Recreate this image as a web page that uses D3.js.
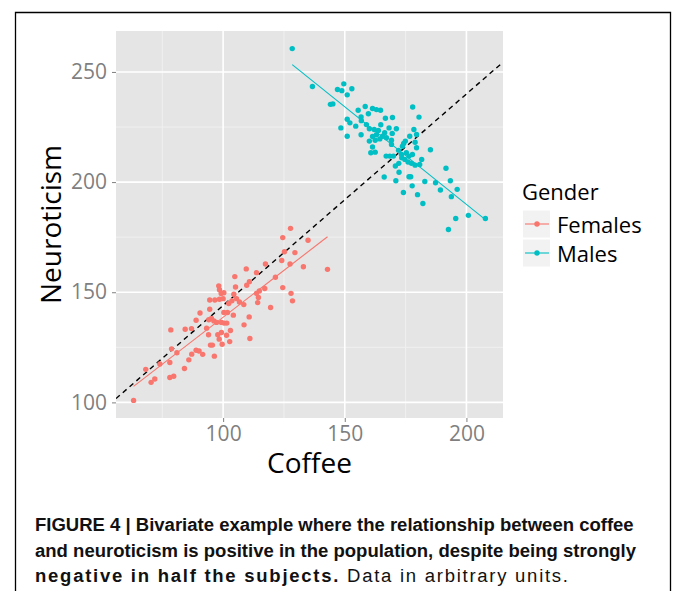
<!DOCTYPE html>
<html>
<head>
<meta charset="utf-8">
<script src="https://cdn.jsdelivr.net/npm/d3@7"></script>
<style>
  body { margin: 0; background: #fff; }
  svg { display: block; }
  .tick-label { font-family: "Open Sans", sans-serif; font-size: 21px; fill: #7f7f7f; }
  .axis-title { font-family: "Open Sans", sans-serif; font-size: 28px; fill: #000; }
  .legend-text { font-family: "Open Sans", sans-serif; font-size: 22px; fill: #000; }
  .caption { font-family: "Liberation Sans", "Roboto", sans-serif; font-size: 19px; fill: #111; }
</style>
</head>
<body>
<div id="chart"></div>
<script>
// data
var femaleCoffee = [63.2, 68.2, 70.4, 71.9, 74.0, 78.5, 78.8, 78.1, 78.1, 79.7, 81.0, 84.1, 84.4, 85.9, 87.0, 87.1,
  88.9, 88.9, 90.1, 90.5, 91.6, 93.2, 94.0, 94.8, 95.6, 96.4, 94.1, 95.2, 96.2, 97.3, 94.5, 96.6, 98.2, 98.5, 99.2,
  100.3, 97.8, 98.4, 99.6, 99.3, 100.4, 101.5, 98.5, 100.0, 100.3, 101.8, 103.0, 102.7, 101.4, 99.3, 102.3, 104.4,
  104.8, 105.1, 104.2, 103.6, 105.5, 106.7, 108.5, 108.6, 110.7, 111.0, 109.5, 109.7, 110.8, 113.7, 113.7, 114.5,
  114.9, 114.2, 117.1, 119.5, 121.5, 117.4, 124.1, 124.5, 125.2, 127.7, 129.5, 127.5, 124.5, 127.9, 128.5, 133.0,
  134.9, 142.9, 94.5];
var femaleNeuro = [100.9, 115.0, 109.1, 110.6, 117.4, 132.9, 124.3, 118.1, 111.3, 111.9, 122.5, 115.4, 133.2, 119.3,
  133.5, 121.9, 123.7, 137.3, 123.3, 140.6, 121.8, 133.7, 130.7, 126.0, 126.0, 121.0, 137.5, 138.1, 137.0, 136.3,
  146.5, 146.5, 152.9, 151.1, 149.4, 149.8, 130.7, 128.7, 126.4, 136.3, 136.0, 136.0, 146.8, 147.1, 140.8, 140.8,
  132.6, 127.6, 130.5, 131.7, 144.9, 149.1, 157.1, 152.4, 139.6, 146.1, 147.1, 145.6, 144.4, 135.2, 138.8, 129.0,
  160.6, 153.2, 154.8, 158.9, 149.5, 147.6, 150.6, 145.3, 151.7, 143.1, 156.8, 162.8, 164.4, 174.8, 168.4, 179.0,
  168.0, 162.8, 152.1, 149.5, 146.1, 161.6, 173.6, 160.4, 142.3];

var maleCoffee = [128.4, 136.7, 147.0, 148.8, 149.6, 151.0, 152.9, 144.1, 145.1, 155.5, 158.4, 159.7, 161.4, 163.0,
  164.7, 166.7, 169.6, 151.0, 152.1, 154.5, 156.7, 156.8, 148.4, 151.0, 156.7, 160.1, 162.1, 164.8, 168.2, 171.2,
  169.5, 161.4, 163.0, 163.8, 165.5, 167.1, 160.1, 162.5, 164.4, 169.2, 169.2, 161.4, 160.7, 162.5, 167.0, 168.5,
  170.0, 177.9, 180.5, 178.4, 179.5, 176.7, 174.9, 174.2, 173.7, 178.9, 179.5, 172.1, 173.3, 175.3, 176.4, 177.8,
  173.4, 174.7, 176.0, 177.4, 178.9, 180.8, 181.6, 185.2, 172.2, 172.3, 166.2, 171.0, 176.4, 177.1, 174.1, 177.7,
  179.9, 182.1, 182.9, 187.3, 189.3, 191.6, 193.4, 193.8, 196.2, 192.6, 195.6, 200.8, 207.8, 166.4, 158.9, 170.8];
var maleNeuro = [260.6, 243.4, 242.0, 241.5, 244.6, 239.6, 242.4, 235.3, 235.5, 232.6, 234.3, 231.0, 233.4, 232.9,
  232.6, 229.0, 229.3, 228.5, 226.9, 225.4, 229.6, 227.9, 224.6, 220.8, 221.5, 224.2, 223.9, 226.0, 224.6, 224.2,
  222.1, 220.7, 221.5, 223.4, 220.8, 220.1, 218.6, 219.0, 219.6, 219.0, 217.1, 215.9, 213.3, 213.6, 211.8, 211.8,
  211.8, 234.1, 229.5, 223.9, 221.6, 220.8, 218.6, 217.5, 216.3, 218.1, 215.6, 214.4, 212.5, 213.3, 211.8, 212.5,
  211.0, 210.3, 209.1, 208.5, 207.7, 208.0, 210.3, 214.7, 208.5, 204.5, 202.3, 200.6, 202.4, 202.4, 195.3, 198.3,
  194.3, 190.3, 200.3, 199.7, 196.4, 206.3, 200.6, 193.4, 196.7, 178.5, 183.5, 184.9, 183.5, 222.4, 226.1, 207.3];

var groups = ["Females", "Males"];
var groupColors = ["#F8766D", "#00BFC4"];
var xBreaks = [100, 150, 200];
var yBreaks = [100, 150, 200, 250];
var xMinor = [75, 125, 175];
var yMinor = [125, 175, 225];
// reference line (intercept, slope)
var refIntercept = 48;
var refSlope = 0.96;

var width = 673, height = 591;
var panelLeft = 116, panelRight = 503, panelTop = 31, panelBottom = 418;

var svg = d3.select('#chart')
            .append('svg')
            .attr('width', width)
            .attr('height', height);

svg.append('rect').attr('width', width).attr('height', height).attr('fill', '#fff');

// frame around the figure
svg.append('path')
  .attr('d', 'M15.5,' + (height + 2) + 'V12.5H670.5V' + (height + 2))
  .attr('fill', 'none')
  .attr('stroke', '#000')
  .attr('stroke-width', 1.3);

var series = [
  { name: groups[0], x: femaleCoffee, y: femaleNeuro, color: groupColors[0] },
  { name: groups[1], x: maleCoffee, y: maleNeuro, color: groupColors[1] }
];

var allX = femaleCoffee.concat(maleCoffee);
var allY = femaleNeuro.concat(maleNeuro);

function expand(ext) {
  var pad = (ext[1] - ext[0]) * 0.05;
  return [ext[0] - pad, ext[1] + pad];
}

var scaleX = d3.scaleLinear()
               .domain(expand(d3.extent(allX)))
               .range([panelLeft, panelRight]);
var scaleY = d3.scaleLinear()
               .domain(expand(d3.extent(allY)))
               .range([panelBottom, panelTop]);

// panel
svg.append('rect')
  .attr('x', panelLeft)
  .attr('y', panelTop)
  .attr('width', panelRight - panelLeft)
  .attr('height', panelBottom - panelTop)
  .attr('fill', '#e5e5e5');

svg.append('defs').append('clipPath')
  .attr('id', 'panel-clip')
  .append('rect')
  .attr('x', panelLeft)
  .attr('y', panelTop)
  .attr('width', panelRight - panelLeft)
  .attr('height', panelBottom - panelTop);

var grid = svg.append('g');

grid.selectAll('.minor-x')
  .data(xMinor)
  .enter().append('line')
  .attr('x1', function(d) { return scaleX(d); })
  .attr('x2', function(d) { return scaleX(d); })
  .attr('y1', panelTop).attr('y2', panelBottom)
  .attr('stroke', '#f2f2f2').attr('stroke-width', 0.8);

grid.selectAll('.minor-y')
  .data(yMinor)
  .enter().append('line')
  .attr('y1', function(d) { return scaleY(d); })
  .attr('y2', function(d) { return scaleY(d); })
  .attr('x1', panelLeft).attr('x2', panelRight)
  .attr('stroke', '#f2f2f2').attr('stroke-width', 0.8);

grid.selectAll('.major-x')
  .data(xBreaks)
  .enter().append('line')
  .attr('x1', function(d) { return scaleX(d); })
  .attr('x2', function(d) { return scaleX(d); })
  .attr('y1', panelTop).attr('y2', panelBottom)
  .attr('stroke', '#fff').attr('stroke-width', 1.6);

grid.selectAll('.major-y')
  .data(yBreaks)
  .enter().append('line')
  .attr('y1', function(d) { return scaleY(d); })
  .attr('y2', function(d) { return scaleY(d); })
  .attr('x1', panelLeft).attr('x2', panelRight)
  .attr('stroke', '#fff').attr('stroke-width', 1.6);

// axes with ggplot-like ticks
var xAxis = d3.axisBottom(scaleX)
              .tickValues(xBreaks)
              .tickSizeInner(4)
              .tickSizeOuter(0)
              .tickPadding(4);
var yAxis = d3.axisLeft(scaleY)
              .tickValues(yBreaks)
              .tickSizeInner(4)
              .tickSizeOuter(0)
              .tickPadding(5);

var gX = svg.append('g')
  .attr('transform', 'translate(0,' + panelBottom + ')')
  .call(xAxis);
var gY = svg.append('g')
  .attr('transform', 'translate(' + panelLeft + ',0)')
  .call(yAxis);

[gX, gY].forEach(function(g) {
  g.select('.domain').remove();
  g.selectAll('.tick line').attr('stroke', '#7f7f7f');
  g.selectAll('.tick text').attr('class', 'tick-label').attr('font-size', null).attr('font-family', null).attr('fill', null);
});

// dashed reference line across the panel
var xd = scaleX.domain();
svg.append('line')
  .attr('clip-path', 'url(#panel-clip)')
  .attr('x1', scaleX(xd[0]))
  .attr('y1', scaleY(refIntercept + refSlope * xd[0]))
  .attr('x2', scaleX(xd[1]))
  .attr('y2', scaleY(refIntercept + refSlope * xd[1]))
  .attr('stroke', '#000')
  .attr('stroke-width', 1.4)
  .attr('stroke-dasharray', '5,4');

// least squares fit per group
function fit(xs, ys) {
  var mx = d3.mean(xs), my = d3.mean(ys);
  var sxy = 0, sxx = 0;
  xs.forEach(function(x, i) {
    sxy += (x - mx) * (ys[i] - my);
    sxx += (x - mx) * (x - mx);
  });
  var b = sxy / sxx;
  return { a: my - b * mx, b: b };
}

series.forEach(function(s) {
  var pts = s.x.map(function(x, i) { return { x: x, y: s.y[i] }; });

  svg.append('g')
    .selectAll('circle')
    .data(pts)
    .enter().append('circle')
    .attr('cx', function(d) { return scaleX(d.x); })
    .attr('cy', function(d) { return scaleY(d.y); })
    .attr('r', 2.7)
    .attr('fill', s.color);

  var f = fit(s.x, s.y);
  var ext = d3.extent(s.x);
  svg.append('line')
    .attr('x1', scaleX(ext[0]))
    .attr('y1', scaleY(f.a + f.b * ext[0]))
    .attr('x2', scaleX(ext[1]))
    .attr('y2', scaleY(f.a + f.b * ext[1]))
    .attr('stroke', s.color)
    .attr('stroke-width', 1.1);
});

// axis titles
svg.append('text')
  .attr('class', 'axis-title')
  .attr('x', (panelLeft + panelRight) / 2)
  .attr('y', 473)
  .attr('text-anchor', 'middle')
  .text('Coffee');

svg.append('text')
  .attr('class', 'axis-title')
  .attr('transform', 'translate(61,' + (panelTop + panelBottom) / 2 + ') rotate(-90)')
  .attr('text-anchor', 'middle')
  .text('Neuroticism');

// legend
var legend = svg.append('g').attr('transform', 'translate(522,0)');
legend.append('text')
  .attr('class', 'legend-text')
  .attr('x', 0)
  .attr('y', 200)
  .text('Gender');

series.forEach(function(s, i) {
  var top = 210 + i * 29;
  legend.append('rect')
    .attr('x', 0.5).attr('y', top)
    .attr('width', 28).attr('height', 28)
    .attr('fill', '#f2f2f2')
    .attr('stroke', '#fff');
  legend.append('line')
    .attr('x1', 3).attr('x2', 27)
    .attr('y1', top + 14).attr('y2', top + 14)
    .attr('stroke', s.color).attr('stroke-width', 1.1);
  legend.append('circle')
    .attr('cx', 15).attr('cy', top + 14).attr('r', 2.7)
    .attr('fill', s.color);
  legend.append('text')
    .attr('class', 'legend-text')
    .attr('x', 35)
    .attr('y', top + 23)
    .text(s.name);
});

// caption: condensed, justified lines
var cap = svg.append('g');
var line1 = cap.append('text').attr('class', 'caption').attr('y', 531).attr('font-weight', 'bold')
  .text('FIGURE 4 | Bivariate example where the relationship between coffee');
var line2 = cap.append('text').attr('class', 'caption').attr('y', 557).attr('font-weight', 'bold')
  .text('and neuroticism is positive in the population, despite being strongly');
var line3 = cap.append('text').attr('class', 'caption').attr('y', 582);
line3.append('tspan').attr('font-weight', 'bold').text('negative in half the subjects.');
line3.append('tspan').text(' Data in arbitrary units.');

var sx = 599 / line1.node().getComputedTextLength();
cap.attr('transform', 'translate(35,0) scale(' + sx + ',1)');
line2.attr('textLength', 601 / sx).attr('lengthAdjust', 'spacing');
line3.attr('textLength', 533 / sx).attr('lengthAdjust', 'spacing');
</script>
</body>
</html>
